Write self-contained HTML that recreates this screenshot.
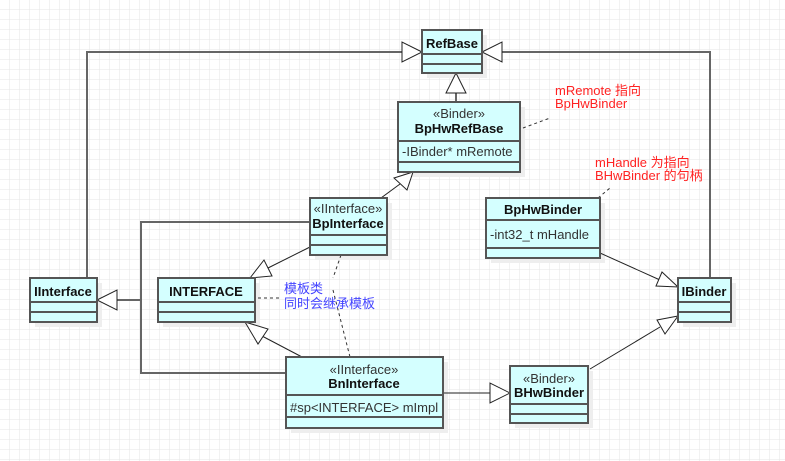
<!DOCTYPE html>
<html><head><style>body{margin:0;background:#fff}svg{display:block}</style></head><body>
<svg width="785" height="461" xmlns="http://www.w3.org/2000/svg" font-family="Liberation Sans, Noto Sans CJK SC, sans-serif">
<defs><pattern id="g" width="10" height="10" patternUnits="userSpaceOnUse"><path d="M10 0V10H0" fill="none" stroke="#e6e6e6" stroke-width="1"/></pattern></defs>
<rect width="785" height="461" fill="url(#g)"/>
<g fill="#eee">
<rect x="427" y="35" width="60" height="43"/><rect x="403" y="107" width="122" height="70"/><rect x="315" y="203" width="77" height="57"/>
<rect x="491" y="203" width="114" height="60"/><rect x="35" y="283" width="67" height="44"/><rect x="163" y="283" width="97" height="44"/>
<rect x="291" y="362" width="157" height="71"/><rect x="515" y="371" width="78" height="57"/><rect x="683" y="283" width="53" height="44"/></g>
<g fill="none" stroke="#666" stroke-width="2">
<polyline points="87,278 87,52 402,52"/><polyline points="710,278 710,52 502,52"/>
<polyline points="310,222 141,222 141,373 286,373"/><line x1="141" y1="300" x2="117" y2="300"/>
<line x1="456" y1="102" x2="456" y2="93"/></g>
<g fill="none" stroke="#222" stroke-width="1">
<line x1="381" y1="198" x2="400" y2="184"/><line x1="310" y1="247" x2="268" y2="268"/><line x1="302" y1="357" x2="262" y2="336"/>
<line x1="443" y1="393" x2="490" y2="393"/><line x1="590" y1="369" x2="660" y2="327"/><line x1="600" y1="253" x2="660" y2="280"/>
</g>
<g fill="#fff" stroke="#222" stroke-width="1">
<polygon points="422,52 402,42 402,62"/><polygon points="482,52 502,42 502,62"/><polygon points="456,73 446,93 466,93"/>
<polygon points="413,172 394,178 407,190"/><polygon points="250,278 264,260 272,276"/><polygon points="97,300 117,290 117,310"/>
<polygon points="245,322 258,344 268,329"/><polygon points="510,393 490,383 490,403"/><polygon points="678,316 657,320 665,334"/><polygon points="678,287 662,272 656,286"/></g>
<g fill="none" stroke="#333" stroke-dasharray="3,3">
<line x1="523" y1="128" x2="550" y2="118"/><line x1="598" y1="198" x2="610" y2="188"/><line x1="258" y1="298" x2="280" y2="298"/>
<line x1="341" y1="255" x2="333" y2="278"/><line x1="333" y1="290" x2="350" y2="357"/></g>
<g fill="#d4ffff" stroke="#555" stroke-width="2">
<rect x="422" y="30" width="60" height="43"/><rect x="398" y="102" width="122" height="70"/><rect x="310" y="198" width="77" height="57"/>
<rect x="486" y="198" width="114" height="60"/><rect x="30" y="278" width="67" height="44"/><rect x="158" y="278" width="97" height="44"/>
<rect x="286" y="357" width="157" height="71"/><rect x="510" y="366" width="78" height="57"/><rect x="678" y="278" width="53" height="44"/></g>
<g stroke="#555" stroke-width="2">
<path d="M422 54H482M422 64H482M398 141H520M398 162H520M310 235H387M310 245H387M486 220H600M486 248H600M30 302H97M30 312H97M158 302H255M158 312H255M286 395H443M286 417H443M510 404H588M510 414H588M678 302H731M678 312H731"/></g>
<g font-size="13" fill="#111" text-anchor="middle" font-weight="bold">
<text x="452" y="48">RefBase</text><text x="459" y="133">BpHwRefBase</text><text x="348" y="228">BpInterface</text>
<text x="543" y="214">BpHwBinder</text><text x="63" y="296">IInterface</text><text x="206" y="296">INTERFACE</text>
<text x="364" y="388">BnInterface</text><text x="549" y="397">BHwBinder</text><text x="704" y="296">IBinder</text></g>
<g font-size="13" fill="#333" text-anchor="middle">
<text x="459" y="118">«Binder»</text><text x="348" y="213">«IInterface»</text><text x="364" y="374">«IInterface»</text><text x="549" y="383">«Binder»</text></g>
<g font-size="13" fill="#333">
<text x="402" y="156">-IBinder* mRemote</text><text x="490" y="239">-int32_t  mHandle</text><text x="290" y="412">#sp&lt;INTERFACE&gt; mImpl</text></g>
<g font-size="13" fill="#f22"><text x="555" y="95">mRemote 指向</text><text x="555" y="108">BpHwBinder</text>
<text x="595" y="167">mHandle 为指向</text><text x="595" y="180">BHwBinder 的句柄</text></g>
<g font-size="13" fill="#44f"><text x="284" y="293">模板类</text><text x="284" y="308">同时会继承模板</text></g>
</svg>
</body></html>
